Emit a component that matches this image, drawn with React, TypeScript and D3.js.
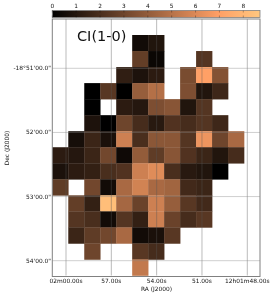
import React from 'react';
import * as d3 from 'd3';

const width = 274;
const height = 295;
const plot = { left: 52.3, right: 260, top: 19, bottom: 275.5, cellTop: 35 };

const colIndex = d3.range(13);
const rowIndex = d3.range(15);

const n = null;
const intensity: (number | null)[][] = [
  [n, n, n, n, n, 0.5, 0.9, n, n, n, n, n, n],
  [n, n, n, n, n, 2.7, 0.3, n, n, 2.3, n, n, n],
  [n, n, n, n, 1.3, 0.8, 1.2, n, 3.3, 7.0, 3.6, n, n],
  [n, n, 0, 2.4, 0, 4.1, 4.9, n, 3.4, 0.9, 1.7, n, n],
  [n, n, 0, n, 1.2, 1.0, 3.4, 3.7, 0.9, 2.3, n, n, n],
  [n, n, 0.8, 0, 3.0, 1.9, 1.1, 2.2, 1.9, 2.3, 1.7, n, n],
  [n, 0.6, 1.6, 0.7, 5.6, 2.0, 3.8, 3.8, 2.3, 6.5, 3.0, 4.6, n],
  [1.2, 1.0, 1.6, 3.1, 0.4, 4.0, 2.6, 3.7, 2.2, 1.6, 0.9, 1.9, n],
  [0.75, 1.2, 1.4, 2.0, 2.2, 5.6, 6.1, 2.0, 1.1, 0.9, 0, n, n],
  [2.6, n, 3.1, 0.5, 4.6, 5.7, 4.6, 4.4, 1.8, 1.6, n, n, n],
  [n, 2.7, 1.4, 8.3, 4.5, 2.9, 5.6, 4.1, 2.4, 1.8, n, n, n],
  [n, 2.3, 2.0, 0.5, 2.3, 1.4, 5.6, 2.9, 1.9, 2.4, n, n, n],
  [n, 1.6, 2.6, 3.1, 4.6, 0.5, 0.7, 2.4, n, n, n, n, n],
  [n, n, 3.0, n, n, 2.4, 1.9, n, n, n, n, n, n],
  [n, n, n, n, n, 5.3, n, n, n, n, n, n, n],
];

const raSeconds = [60, 57, 54, 51, 48];
const raLabels = ['02m00.00s', '57.00s', '54.00s', '51.00s', '12h01m48.00s'];
const decArcsec = [60, 120, 180, 240];
const decLabels = ['-18°51\'00.0"', '52\'00.0"', '53\'00.0"', '54\'00.0"'];
const colorbarTicks = [0, 1, 2, 3, 4, 5, 6, 7, 8];
const maxValue = 8.7;

// matplotlib "copper"
const copper = (t: number) =>
  d3.rgb(Math.min(255, 255 * 1.25 * t), 255 * 0.7812 * t, 255 * 0.4975 * t).formatHex();

const App = () => {
  const x = d3.scaleBand<number>().domain(colIndex).range([plot.left, plot.right]);
  const y = d3.scaleBand<number>().domain(rowIndex).range([plot.cellTop, plot.bottom]);
  const color = d3.scaleLinear().domain([0, maxValue]).range([0, 1]);
  const ra = d3.scaleLinear().domain([60, 48]).range([66, 247.3]);
  const dec = d3.scaleLinear().domain([60, 240]).range([68.3, 260.7]);
  const cb = d3.scaleLinear().domain([0, maxValue]).range([plot.left, plot.right]);
  const font = '"DejaVu Sans", sans-serif';

  return (
    <svg
      width={width}
      height={height}
      style={{ position: 'absolute', left: 0, top: 0, background: '#fff' }}
      fontFamily={font}
    >
      <defs>
        <linearGradient id="copper">
          {d3.range(0, 1.001, 0.05).map(t => (
            <stop key={t} offset={t} stopColor={copper(t)} />
          ))}
        </linearGradient>
        <filter id="soft" x="-5%" y="-5%" width="110%" height="110%" colorInterpolationFilters="sRGB">
          <feGaussianBlur stdDeviation="0.3" />
        </filter>
      </defs>

      <g filter="url(#soft)">
        {intensity.map((row, r) =>
          row.map((v, c) =>
            v === null ? null : (
              <rect
                key={`${r}-${c}`}
                x={x(c)}
                y={y(r)}
                width={x.bandwidth() + 0.3}
                height={y.bandwidth() + 0.3}
                fill={copper(color(v))}
              />
            ),
          ),
        )}

        {raSeconds.map(s => (
          <line key={s} x1={ra(s)} x2={ra(s)} y1={plot.top} y2={plot.bottom} stroke="#555" strokeOpacity={0.5} strokeWidth={0.8} />
        ))}
        {decArcsec.map(s => (
          <line key={s} x1={plot.left} x2={plot.right} y1={dec(s)} y2={dec(s)} stroke="#888" strokeOpacity={0.4} strokeWidth={1} />
        ))}
        <rect
          x={plot.left}
          y={plot.top}
          width={plot.right - plot.left}
          height={plot.bottom - plot.top + 1}
          fill="none"
          stroke="#808080"
          strokeWidth={1}
        />

        <rect x={plot.left} y={10.5} width={plot.right - plot.left} height={7} fill="url(#copper)" stroke="#808080" strokeWidth={0.8} />
        {colorbarTicks.map(t => (
          <g key={t}>
            <line x1={cb(t)} x2={cb(t)} y1={10.5} y2={12.5} stroke="#000" strokeOpacity={0.5} strokeWidth={0.6} />
            <line x1={cb(t)} x2={cb(t)} y1={15.5} y2={17.5} stroke="#000" strokeOpacity={0.5} strokeWidth={0.6} />
            <text x={cb(t)} y={8} fontSize={5.8} textAnchor="middle" fill="#111">{t}</text>
          </g>
        ))}

        <text x={77} y={40.5} fontSize={14.5} fill="#111">CI(1-0)</text>

        {raSeconds.map((s, i) => (
          <text key={s} x={ra(s)} y={282.5} fontSize={5.9} textAnchor="middle" fill="#111">{raLabels[i]}</text>
        ))}
        {decArcsec.map((s, i) => (
          <text key={s} x={51} y={dec(s) + 2} fontSize={5.9} textAnchor="end" fill="#111">{decLabels[i]}</text>
        ))}

        <text x={156.5} y={290.5} fontSize={5.9} textAnchor="middle" fill="#111">RA (J2000)</text>
        <text transform="translate(8.5,148) rotate(-90)" fontSize={5.9} textAnchor="middle" fill="#111">Dec (J2000)</text>
      </g>
    </svg>
  );
};

export default App;
